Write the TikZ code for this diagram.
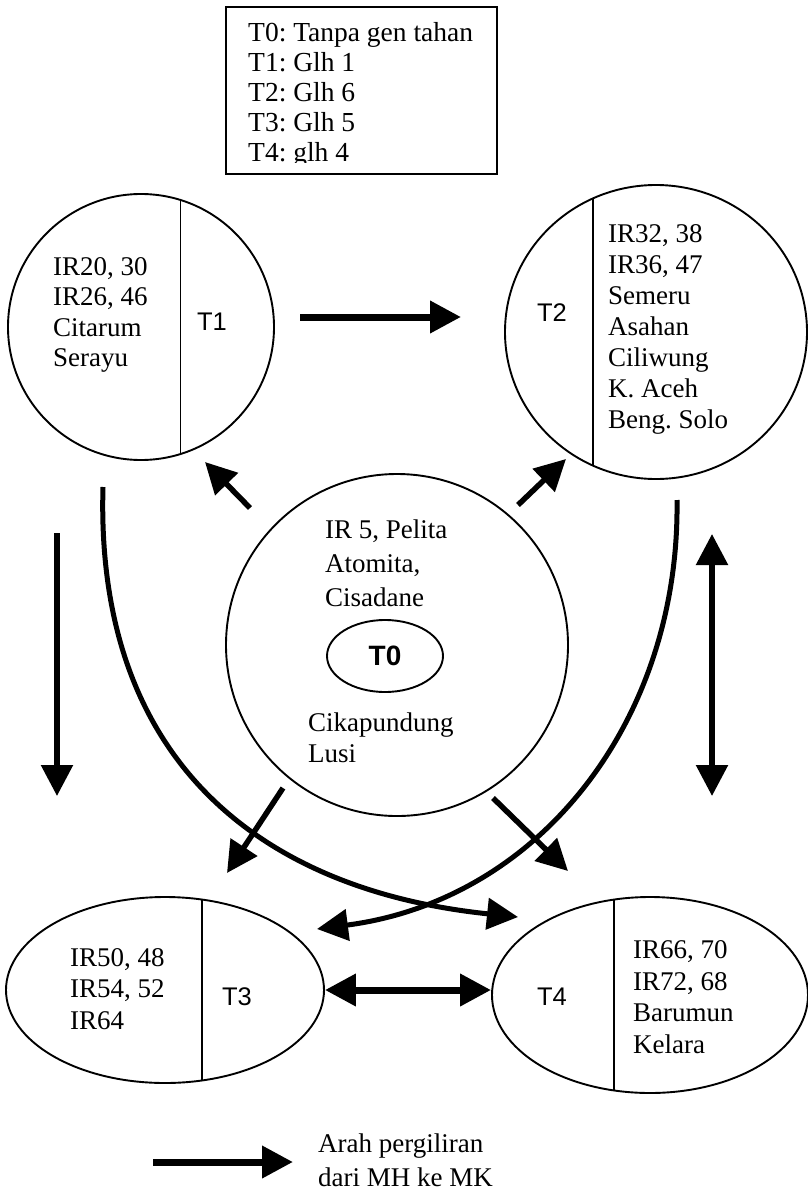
\documentclass[tikz,border=0pt]{standalone}
\usepackage{fontspec}
\setmainfont{Liberation Serif}
\newfontfamily\lsans{Liberation Sans}
\usetikzlibrary{arrows.meta,shapes.geometric}
\frenchspacing
\begin{document}
\begin{tikzpicture}[x=1pt,y=-1pt,
  shp/.style={draw, line width=1.9pt, inner sep=0pt},
  divider/.style={line width=1.3pt},
  txt/.style={font=\fontsize{27}{30.5}\selectfont, align=left, inner sep=0pt, anchor=west},
  tlab/.style={font=\lsans\fontsize{25.5}{30}\selectfont, inner sep=0pt},
  tip/.style={-{Triangle[length=31pt,width=31pt]}},
  dtip/.style={{Triangle[length=31pt,width=31pt]}-{Triangle[length=31pt,width=31pt]}},
  arr/.style={line width=5.5pt, tip},
  darr/.style={line width=5.5pt, dtip},
  carr/.style={line width=5pt, tip}
]
\useasboundingbox (0,0) rectangle (808,1191);

% legend box
\node[draw, line width=1.9pt, minimum width=271pt, minimum height=167pt, anchor=north west, inner sep=0pt] (legend) at (225,6) {};
\begin{scope}
\clip (legend.north west) rectangle (496,162);
\node[txt, font=\fontsize{27.5}{30}\selectfont] (legtext) at (248,95) {T0: Tanpa gen tahan\\T1: Glh 1\\T2: Glh 6\\T3: Glh 5\\T4: glh 4};
\end{scope}

% T1
\node[shp, circle, minimum size=266pt] (t1) at (141,327) {};
\draw[divider] (t1.73) -- (t1.-73);
\node[txt] (t1text) at (53,315) {IR20, 30\\IR26, 46\\Citarum\\Serayu};
\node[tlab] (t1lab) at (212,322) {T1};

% T2
\node[shp, ellipse, minimum width=302pt, minimum height=294pt] (t2) at (656,332) {};
\draw[divider] (593,198) -- (593,466);
\node[txt, font=\fontsize{27}{31}\selectfont] (t2text) at (608,329) {IR32, 38\\IR36, 47\\Semeru\\Asahan\\Ciliwung\\K. Aceh\\Beng. Solo};
\node[tlab] (t2lab) at (552,313) {T2};

% T0
\node[shp, circle, minimum size=342pt] (t0) at (397,645) {};
\node[txt, font=\fontsize{27}{34}\selectfont] (t0texta) at (325,563) {IR 5, Pelita\\Atomita,\\Cisadane};
\node[shp, ellipse, minimum width=116pt, minimum height=72pt, font=\lsans\bfseries\fontsize{28}{30}\selectfont] (t0lab) at (385,656) {T0};
\node[txt] (t0textb) at (308,738) {Cikapundung\\Lusi};

% T3
\node[shp, ellipse, minimum width=318pt, minimum height=186pt] (t3) at (165,990) {};
\draw[divider] (202,900) -- (202,1080);
\node[txt, font=\fontsize{27}{31.5}\selectfont] (t3text) at (70,989) {IR50, 48\\IR54, 52\\IR64};
\node[tlab] (t3lab) at (237,997) {T3};

% T4
\node[shp, ellipse, minimum width=316pt, minimum height=196pt] (t4) at (650,995) {};
\draw[divider] (614,900) -- (614,1090);
\node[txt, font=\fontsize{27}{31.5}\selectfont] (t4text) at (633,997) {IR66, 70\\IR72, 68\\Barumun\\Kelara};
\node[tlab] (t4lab) at (552,997) {T4};

% arrow end points
\coordinate (a12s) at (300,317);
\coordinate (a12e) at (461,317);
\coordinate (a01s) at (250,508);
\coordinate (a01e) at (205,462);
\coordinate (a02s) at (518,505);
\coordinate (a02e) at (566,459);
\coordinate (a03s) at (283,788);
\coordinate (a03e) at (227,873);
\coordinate (a04s) at (493,798);
\coordinate (a04e) at (568,871);
\coordinate (a13s) at (57,533);
\coordinate (a13e) at (57,796);
\coordinate (a24s) at (712,534);
\coordinate (a24e) at (712,796);
\coordinate (c14s) at (103,487);
\coordinate (c14e) at (518,917);
\coordinate (c23s) at (677,500);
\coordinate (c23e) at (317,929);

% arrows
\draw[line width=7pt, tip] (a12s) -- (a12e);
\draw[arr] (a01s) -- (a01e);
\draw[arr] (a02s) -- (a02e);
\draw[arr] (a03s) -- (a03e);
\draw[arr] (a04s) -- (a04e);
\draw[arr] (a13s) -- (a13e);
\draw[darr] (a24s) -- (a24e);
\draw[carr] (c14s) .. controls (95,760) and (260,890) .. (c14e);
\draw[carr] (c23s) .. controls (680,720) and (540,900) .. (c23e);
\draw[line width=7pt, dtip] (t3.east) -- (t3.east -| t4.west);

% legend arrow
\coordinate (lgs) at (153,1162);
\coordinate (lge) at (293,1162);
\draw[line width=7pt, tip] (lgs) -- (lge);
\node[txt, font=\fontsize{27}{34}\selectfont] (lgtext) at (318,1160) {Arah pergiliran\\dari MH ke MK};
\end{tikzpicture}
\end{document}
